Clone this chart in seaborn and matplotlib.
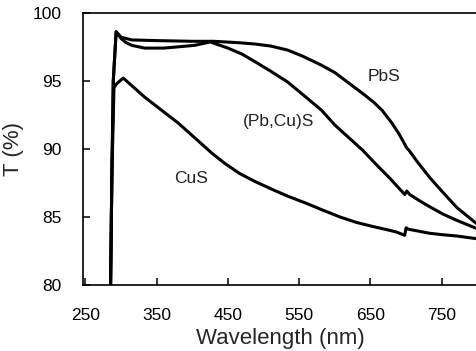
import matplotlib
matplotlib.use("Agg")
import matplotlib.pyplot as plt
import seaborn as sns
import pandas as pd

# ---- data ----
wl_pbs = [285, 287, 289, 293, 300, 315, 350, 400, 430, 464, 488, 510, 534, 555, 581, 600, 614,
          628, 642, 655, 666, 680, 690, 698, 701, 704, 715, 733, 750, 771, 785, 799]
t_pbs = [79.0, 88.0, 95.0, 98.6, 98.2, 98.0, 97.95, 97.9, 97.9, 97.8, 97.7, 97.55, 97.25, 96.8,
         96.15, 95.6, 95.05, 94.5, 93.95, 93.4, 92.85, 91.9, 91.1, 90.35, 90.05, 89.9, 89.1,
         87.9, 86.9, 85.7, 85.1, 84.5]

wl_pbcus = [285, 287, 289, 293, 300, 307, 315, 333, 360, 403, 425, 450, 470, 488, 510, 534, 557,
            581, 600, 620, 639, 658, 677, 698, 701, 705, 720, 733, 752, 771, 785, 799]
t_pbcus = [79.0, 88.0, 95.0, 98.6, 98.1, 97.8, 97.6, 97.4, 97.4, 97.6, 97.85, 97.4, 96.95, 96.4,
           95.7, 94.9, 93.9, 92.85, 91.75, 90.8, 89.9, 88.85, 87.85, 86.65, 86.9, 86.65, 86.15,
           85.75, 85.2, 84.75, 84.45, 84.15]

wl_cus = [285, 287, 290, 294, 303, 333, 380, 410, 427, 445, 466, 477, 488, 513, 535, 560, 583,
          607, 630, 653, 670, 686, 698, 700, 703, 733, 750, 771, 785, 799]
t_cus = [79.0, 88.0, 94.5, 94.8, 95.2, 93.8, 91.9, 90.5, 89.7, 88.95, 88.2, 87.9, 87.6, 87.0,
         86.5, 86.0, 85.5, 85.0, 84.6, 84.3, 84.1, 83.9, 83.65, 84.2, 84.1, 83.8, 83.7, 83.6,
         83.5, 83.4]

series_names = ["PbS", "(Pb,Cu)S", "CuS"]
label_pos = {"PbS": (669, 95.3), "(Pb,Cu)S": (521, 92.0), "CuS": (398, 87.8)}

x_ticks = [250, 350, 450, 550, 650, 750]
y_ticks = [80, 85, 90, 95, 100]

df = pd.concat([
    pd.DataFrame({"wl": wl_pbs, "T": t_pbs, "s": "PbS"}),
    pd.DataFrame({"wl": wl_pbcus, "T": t_pbcus, "s": "(Pb,Cu)S"}),
    pd.DataFrame({"wl": wl_cus, "T": t_cus, "s": "CuS"}),
])

# ---- style ----
sns.set_theme(style="ticks")
plt.rcParams["font.family"] = ["Liberation Sans", "DejaVu Sans"]

fig = plt.figure(figsize=(4.77, 3.51), dpi=100)
ax = fig.add_axes([83 / 477, 66 / 351, 394 / 477, 272.3 / 351])

for name in series_names:
    sub = df[df["s"] == name]
    sns.lineplot(data=sub, x="wl", y="T", ax=ax, color="black", linewidth=2.2,
                 estimator=None, sort=False, legend=False)

for name, (x, y) in label_pos.items():
    ax.text(x, y, name, fontsize=12.5, ha="center", va="center", color="#222222")

ax.set_xlim(246.5, 799.5)
ax.set_ylim(80, 100)
ax.set_xticks(x_ticks)
ax.set_yticks(y_ticks)
ax.tick_params(direction="in", length=5, width=1.1, labelsize=12.5, colors="black",
               top=False, right=False)
ax.tick_params(axis="x", pad=16.5)
ax.tick_params(axis="y", pad=15.5)
for s in ["left", "bottom", "top"]:
    ax.spines[s].set_linewidth(1.2)
    ax.spines[s].set_color("black")
ax.spines["right"].set_linewidth(1.0)
ax.spines["right"].set_color("0.45")

ax.set_xlabel("Wavelength (nm)", fontsize=16, labelpad=4)
ax.set_ylabel("T (%)", fontsize=16, labelpad=6)

fig.savefig("out.png", dpi=100)
